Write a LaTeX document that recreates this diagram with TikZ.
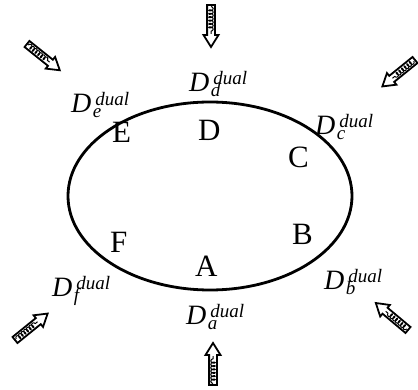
\documentclass[tikz,border=0pt]{standalone}
\usepackage{fontspec}
\setmainfont{Liberation Serif}
\usetikzlibrary{decorations.pathmorphing}
\newcommand\scr{\fontsize{19}{19}\selectfont\itshape}
\newcommand\dlab[1]{\fontsize{28}{30}\selectfont\textit{D}\rlap{\kern4pt\raisebox{7pt}{\scr dual}}\kern1.5pt\raisebox{-5pt}{\scr #1}\phantom{\scr dual}}
\tikzset{
  letter/.style={inner sep=0pt, anchor=base west, font=\fontsize{31}{33}\selectfont},
  duallab/.style={inner sep=0pt, anchor=base west},
  harrow/.pic={
    \draw[line width=1.8pt, fill=white, line join=miter]
      (0,-3.9) -- (30,-3.9) -- (30,-7.5) -- (42,0) -- (30,7.5) -- (30,3.9) -- (0,3.9) -- cycle;
    \draw[line width=1pt, decorate, decoration={coil, aspect=0.6, segment length=3.4pt, amplitude=2.2pt}]
      (1.5,0) -- (29,0);
  }
}
\begin{document}
\begin{tikzpicture}[x=1pt,y=-1pt]
\useasboundingbox (0,0) rectangle (418,390);
\coordinate (ctr) at (210,196);
\draw[line width=2.8pt] (ctr) ellipse [x radius=142, y radius=94];
% region letters
\node[letter] (E) at (112,143) {E};
\node[letter] (D) at (198,141) {D};
\node[letter] (C) at (288,168) {C};
\node[letter] (B) at (292,245) {B};
\node[letter] (F) at (110,253) {F};
\node[letter] (A) at (195,277) {A};
% dual labels
\node[duallab] (Dd) at (189,92) {\dlab{d}};
\node[duallab] (De) at (71,113) {\dlab{e}};
\node[duallab] (Dc) at (315,135) {\dlab{c}};
\node[duallab] (Db) at (324,290) {\dlab{b}};
\node[duallab] (Da) at (186,325) {\dlab{a}};
\node[duallab] (Df) at (52,297) {\dlab{f}};
% arrows
\pic[rotate=-90] at (211,5) {harrow};
\pic[rotate=-38.7] at (27,44) {harrow};
\pic[rotate=-141] at (415,60) {harrow};
\pic[rotate=39] at (15,340) {harrow};
\pic[rotate=90] at (213,385) {harrow};
\pic[rotate=140] at (408,330) {harrow};
\end{tikzpicture}
\end{document}
